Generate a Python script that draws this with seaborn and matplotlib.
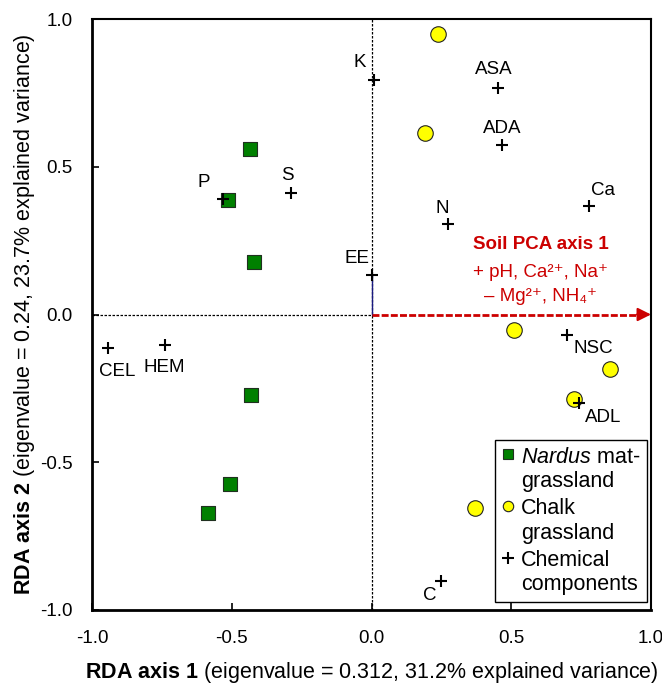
import numpy as np
import pandas as pd
import matplotlib
matplotlib.use("Agg")
import matplotlib.pyplot as plt
from matplotlib.lines import Line2D
import seaborn as sns

# site scores (RDA axis 1, axis 2)
nardus_x = [-0.435, -0.513, -0.420, -0.431, -0.506, -0.585]
nardus_y = [0.560, 0.387, 0.178, -0.272, -0.574, -0.672]
chalk_x = [0.238, 0.191, 0.510, 0.855, 0.724, 0.370]
chalk_y = [0.949, 0.614, -0.052, -0.184, -0.286, -0.655]

# chemical components
chem_names = ["K", "ASA", "ADA", "Ca", "N", "EE", "P", "S",
              "CEL", "HEM", "NSC", "ADL", "C"]
chem_x = [0.009, 0.452, 0.467, 0.778, 0.274, 0.000, -0.531, -0.288,
          -0.943, -0.738, 0.700, 0.742, 0.249]
chem_y = [0.794, 0.767, 0.573, 0.367, 0.306, 0.134, 0.391, 0.412,
          -0.113, -0.103, -0.069, -0.300, -0.902]

ticks = [-1.0, -0.5, 0.0, 0.5, 1.0]

# label offsets in pixels (dx, dy) from each cross
label_offsets = {"K": (-14, 17), "ASA": (-4, 18), "ADA": (0, 17), "Ca": (14, 16),
                 "N": (-6, 16), "EE": (-14, 16), "P": (-19, 16), "S": (-4, 17),
                 "CEL": (9, -24), "HEM": (-1, -23), "NSC": (26, -14),
                 "ADL": (24, -14), "C": (-11, -14)}

sns.set_style("white")
plt.rcParams['font.family'] = ['Liberation Sans', 'DejaVu Sans']
plt.rcParams['mathtext.fontset'] = 'custom'
plt.rcParams['mathtext.rm'] = 'Liberation Sans'
plt.rcParams['mathtext.it'] = 'Liberation Sans:italic'
plt.rcParams['mathtext.bf'] = 'Liberation Sans:bold'
plt.rcParams['text.color'] = 'black'
plt.rcParams['axes.labelcolor'] = 'black'

df_n = pd.DataFrame({"x": nardus_x, "y": nardus_y})
df_c = pd.DataFrame({"x": chalk_x, "y": chalk_y})
df_e = pd.DataFrame({"x": chem_x, "y": chem_y, "name": chem_names})

fig = plt.figure(figsize=(6.62, 6.87), dpi=100)
ax = fig.add_axes([92 / 662, 77 / 687, 559 / 662, 591 / 687])

red = "#cc0000"

# reference lines
ax.axvline(0, color="black", lw=0.9, ls=(0, (2, 1.2)), zorder=1)
ax.plot([-1, 0], [0, 0], color="black", lw=0.9, ls=(0, (2, 1.2)), zorder=1)
ax.plot([0, 0], [0, 0.134], color="#1a1a80", lw=1.0, zorder=1)
ax.plot([0, 0.96], [0, 0], color=red, lw=2, ls=(0, (2.5, 0.8)), zorder=2)
ax.annotate("", xy=(1.0, 0), xytext=(0.95, 0),
            arrowprops=dict(arrowstyle="-|>", color=red, lw=1.5,
                            mutation_scale=20, shrinkA=0, shrinkB=0),
            annotation_clip=False, zorder=3)

sns.scatterplot(data=df_n, x="x", y="y", marker="s", s=105, color="#008000",
                edgecolor="#203020", linewidth=0.8, ax=ax, zorder=4)
sns.scatterplot(data=df_c, x="x", y="y", marker="o", s=125, color="#ffff00",
                edgecolor="#222222", linewidth=0.8, ax=ax, zorder=4)
sns.scatterplot(data=df_e, x="x", y="y", marker="+", s=70, color="black",
                linewidth=1.5, ax=ax, zorder=5)

for _, r in df_e.iterrows():
    dx, dy = label_offsets[r["name"]]
    ax.annotate(r["name"], (r["x"], r["y"]), xytext=(dx, dy),
                textcoords="offset pixels", ha="center", va="center",
                fontsize=13.5, zorder=6)

# soil PCA annotation
ax.text(0.606, 0.236, "Soil PCA axis 1", color=red, fontsize=13.5,
        fontweight="bold", ha="center", va="center")
ax.text(0.606, 0.143, "+ pH, Ca²⁺, Na⁺", color=red, fontsize=13.5,
        ha="center", va="center")
ax.text(0.606, 0.062, "– Mg²⁺, NH₄⁺", color=red, fontsize=13.5,
        ha="center", va="center")

ax.set_xlim(-1, 1)
ax.set_ylim(-1, 1)
ax.set_xticks(ticks)
ax.set_yticks(ticks)
ax.set_xticklabels([f"{t:.1f}" for t in ticks])
ax.set_yticklabels([f"{t:.1f}" for t in ticks])
ax.tick_params(direction="in", length=5, width=1.2, labelsize=13.5,
               colors="black", left=True, bottom=True)
ax.tick_params(axis="x", pad=14.5)
ax.tick_params(axis="y", pad=14)

for side in ["left", "bottom"]:
    ax.spines[side].set_linewidth(2)
for side in ["top", "right"]:
    ax.spines[side].set_linewidth(1.5)
for sp in ax.spines.values():
    sp.set_color("black")
    sp.set_visible(True)

ax.set_xlabel(r"$\bf{RDA\ axis\ 1}$ (eigenvalue = 0.312, 31.2% explained variance)",
              fontsize=15.5, labelpad=9)
ax.set_ylabel(r"$\bf{RDA\ axis\ 2}$ (eigenvalue = 0.24, 23.7% explained variance)",
              fontsize=15.5, labelpad=2)

handles = [
    Line2D([], [], marker="s", ls="", markersize=7.5, markerfacecolor="#008000",
           markeredgecolor="#203020", markeredgewidth=0.8),
    Line2D([], [], marker="o", ls="", markersize=7.5, markerfacecolor="#ffff00",
           markeredgecolor="#222222", markeredgewidth=0.8),
    Line2D([], [], marker="+", ls="", markersize=9, color="black",
           markeredgewidth=1.5),
]
labels = [r"$\it{Nardus}$ mat-" + "\ngrassland", "Chalk\ngrassland",
          "Chemical\ncomponents"]
leg = ax.legend(handles, labels, loc="lower right", bbox_to_anchor=(0.993, 0.014),
                borderaxespad=0, fontsize=15.5, frameon=True, fancybox=False,
                edgecolor="black", handlelength=0.55, handletextpad=0.35,
                borderpad=0.3, labelspacing=0.3, framealpha=1)
leg.get_frame().set_linewidth(1.0)
# put each marker beside the first line of its label
for col in leg._legend_handle_box.get_children():
    for row in col.get_children():
        row.align = "top"

fig.savefig("out.png", dpi=100)
